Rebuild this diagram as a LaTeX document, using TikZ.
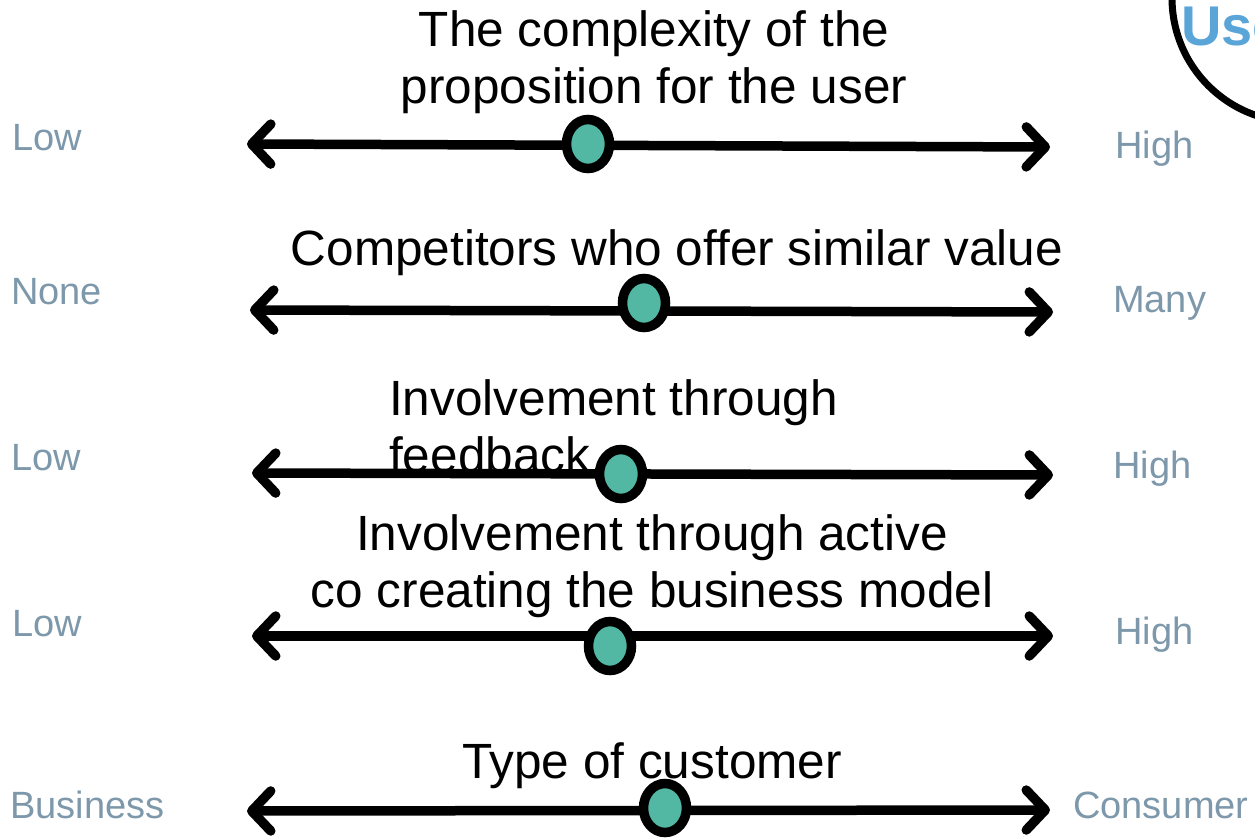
\documentclass[tikz,border=0pt]{standalone}
\usepackage{fontspec}
\setmainfont{Liberation Sans}
\usetikzlibrary{arrows.meta,shapes.geometric}
\definecolor{knobfill}{RGB}{82,184,163}
\definecolor{scalegrey}{RGB}{125,152,170}
\definecolor{headblue}{RGB}{90,165,216}
\begin{document}
\begin{tikzpicture}[x=1pt,y=-1pt,
  scaleline/.style={line width=9.5pt, line cap=round, line join=round,
    arrows={Straight Barb[round,length=19pt,width=40pt]-Straight Barb[round,length=19pt,width=40pt]}},
  knob/.style={ellipse, draw=black, line width=9.5pt, fill=knobfill,
    minimum width=43pt, minimum height=49pt, inner sep=0pt},
  endlabel/.style={text=scalegrey, font=\fontsize{38}{44}\selectfont, inner sep=0pt, anchor=base west},
  question/.style={font=\fontsize{49.5}{57}\selectfont, inner sep=0pt, text=black}]
\useasboundingbox (0,0) rectangle (1255,840);

% scale end points
\coordinate (l1) at (247,144);  \coordinate (r1) at (1050,147);
\coordinate (l2) at (250,310);  \coordinate (r2) at (1053,312);
\coordinate (l3) at (252,473);  \coordinate (r3) at (1053,475);
\coordinate (l4) at (252,636);  \coordinate (r4) at (1053,636);
\coordinate (l5) at (247,811);  \coordinate (r5) at (1050,810);

% the five double-headed scales
\foreach \i in {1,...,5} \draw[scaleline] (l\i) -- (r\i);

% questions above each scale (base = baseline of the last line)
\node[question, anchor=base, align=center] (q1) at (654,104)
  {The complexity of the\\proposition for the user};
\node[question, anchor=base] (q2) at (677,265) {Competitors who offer similar value};
\node[question, anchor=base west, align=left] (q3) at (389,472)
  {Involvement through\\feedback};
\node[question, anchor=base, align=center] (q4) at (652,607)
  {Involvement through active\\co creating the business model};
\node[question, anchor=base] (q5) at (652,778) {Type of customer};

% position markers
\node[knob] (k1) at (588,144) {};
\node[knob] (k2) at (644,303) {};
\node[knob] (k3) at (621,474) {};
\node[knob] (k4) at (610,646) {};
\node[knob] (k5) at (665,808) {};

% end labels
\node[endlabel] (a1) at (12,150) {Low};
\node[endlabel] (b1) at (1115,158) {High};
\node[endlabel] (a2) at (11,304) {None};
\node[endlabel] (b2) at (1113,312) {Many};
\node[endlabel] (a3) at (11,470) {Low};
\node[endlabel] (b3) at (1113,478) {High};
\node[endlabel] (a4) at (12,636) {Low};
\node[endlabel] (b4) at (1115,644) {High};
\node[endlabel] (a5) at (10,818) {Business};
\node[endlabel] (b5) at (1073,818) {Consumer};

% neighbouring panel, cut by the page edge
\begin{scope}
  \clip (0,0) rectangle (1255,840);
  \draw[line width=7pt] (1296,-2) circle[radius=124];
  \node[text=headblue, font=\bfseries\fontsize{56}{60}\selectfont, inner sep=0pt, anchor=base west]
    (panel) at (1181,46) {User};
\end{scope}
\end{tikzpicture}
\end{document}
